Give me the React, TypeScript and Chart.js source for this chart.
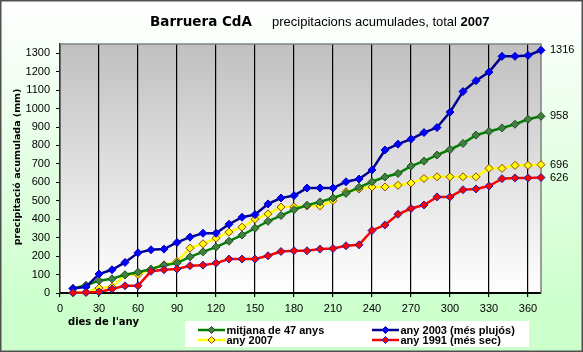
import React, { useEffect, useRef } from 'react';
import { Chart, registerables } from 'chart.js';

Chart.register(...registerables);

// ---- data ----
const days = [10, 20, 30, 40, 50, 60, 70, 80, 90, 100, 110, 120, 130, 140, 150, 160, 170, 180, 190, 200, 210, 220, 230, 240, 250, 260, 270, 280, 290, 300, 310, 320, 330, 340, 350, 360, 370];
const mitjana47 = [25, 42, 67, 77, 99, 113, 130, 151, 162, 196, 223, 249, 281, 314, 351, 389, 420, 452, 476, 494, 515, 540, 573, 603, 629, 648, 688, 715, 748, 778, 811, 856, 876, 895, 915, 942, 958];
const any2003 = [24, 33, 103, 126, 166, 218, 234, 238, 274, 303, 324, 324, 373, 411, 425, 483, 515, 528, 569, 569, 569, 603, 618, 667, 775, 807, 834, 870, 897, 981, 1092, 1151, 1198, 1283, 1283, 1288, 1316];
const any2007 = [2, 5, 27, 32, 97, 100, 130, 153, 171, 243, 267, 297, 330, 357, 400, 429, 466, 467, 472, 472, 501, 549, 564, 575, 575, 584, 596, 621, 630, 630, 630, 630, 676, 676, 692, 692, 696];
const any1991 = [2, 3, 6, 22, 39, 39, 118, 126, 130, 148, 151, 162, 184, 184, 184, 202, 225, 229, 229, 238, 241, 256, 261, 339, 369, 427, 458, 477, 521, 521, 560, 564, 580, 620, 624, 624, 626];

const xTicks = [0, 30, 60, 90, 120, 150, 180, 210, 240, 270, 300, 330, 360];
const yTicks = [0, 100, 200, 300, 400, 500, 600, 700, 800, 900, 1000, 1100, 1200, 1300];

const seriesLabels = ['mitjana de 47 anys', 'any 2003 (més plujós)', 'any 2007', 'any 1991 (més sec)'];
const titleMain = 'Barruera CdA';
const titleSub = 'precipitacions acumulades, total ';
const titleYear = '2007';
const xTitle = "dies de l'any";
const yTitle = 'precipitació acumulada (mm)';

// ---- styles ----
const styles = [
  { line: '#008000', fill: '#408040', edge: '#1f4f1f', order: 2 },
  { line: '#00008c', fill: '#0000ff', edge: '#0000c8', order: 1 },
  { line: '#ffff00', fill: '#ffff00', edge: '#994000', order: 3 },
  { line: '#ff0000', fill: '#ff0000', edge: '#2020b0', order: 0 },
];
const seriesValues = [mitjana47, any2003, any2007, any1991];

export default function App() {
  const ref = useRef<HTMLCanvasElement>(null);

  useEffect(() => {
    document.body.style.margin = '0';
    const canvas = ref.current!;

    const drawDiamond = (ctx: CanvasRenderingContext2D, x: number, y: number, r: number, fill: string, edge: string) => {
      ctx.beginPath();
      ctx.moveTo(x, y - r);
      ctx.lineTo(x + r, y);
      ctx.lineTo(x, y + r);
      ctx.lineTo(x - r, y);
      ctx.closePath();
      ctx.fillStyle = fill;
      ctx.fill();
      ctx.lineWidth = 1;
      ctx.strokeStyle = edge;
      ctx.stroke();
    };

    const deco = {
      id: 'deco',
      beforeDraw(chart: any) {
        const { ctx, width, height, chartArea: a } = chart;
        ctx.save();
        const g = ctx.createLinearGradient(0, 0, 0, 310);
        g.addColorStop(0, '#ffffff');
        g.addColorStop(1, '#ccffcc');
        ctx.fillStyle = g;
        ctx.fillRect(0, 0, width, height);
        const p = ctx.createLinearGradient(0, a.top, 0, a.bottom);
        p.addColorStop(0, '#c0c0c0');
        p.addColorStop(1, '#ffffff');
        ctx.fillStyle = p;
        ctx.fillRect(a.left, a.top, a.right - a.left, a.bottom - a.top);
        ctx.restore();
      },
      beforeDatasetsDraw(chart: any) {
        const { ctx, chartArea: a } = chart;
        ctx.save();
        ctx.strokeStyle = '#808080';
        ctx.lineWidth = 1.5;
        ctx.beginPath();
        ctx.moveTo(a.left, a.top);
        ctx.lineTo(a.right, a.top);
        ctx.lineTo(a.right, a.bottom);
        ctx.stroke();
        ctx.restore();
      },
      afterDraw(chart: any) {
        const { ctx, width, height } = chart;
        ctx.save();
        // title
        ctx.fillStyle = '#000';
        ctx.textBaseline = 'alphabetic';
        ctx.textAlign = 'left';
        ctx.font = 'bold 13.5px "DejaVu Sans"';
        ctx.fillText(titleMain, 150, 26);
        ctx.font = '13px "Liberation Sans"';
        ctx.fillText(titleSub, 272, 26);
        const w = ctx.measureText(titleSub).width;
        ctx.font = 'bold 13px "Liberation Sans"';
        ctx.fillText(titleYear, 272 + w, 26);

        // axis titles
        ctx.font = 'bold 10px "DejaVu Sans"';
        ctx.textBaseline = 'middle';
        ctx.fillText(xTitle, 68, 322);
        ctx.save();
        ctx.translate(18, 167);
        ctx.rotate(-Math.PI / 2);
        ctx.textAlign = 'center';
        ctx.font = 'bold 9.5px "DejaVu Sans"';
        ctx.fillText(yTitle, 0, 0);
        ctx.restore();

        // end labels
        ctx.font = '11px "Liberation Sans"';
        ctx.textAlign = 'left';
        ctx.textBaseline = 'middle';
        chart.data.datasets.forEach((ds: any, i: number) => {
          const meta = chart.getDatasetMeta(i);
          const pt = meta.data[meta.data.length - 1];
          const v = ds.data[ds.data.length - 1].y;
          ctx.fillText(String(v), pt.x + 9, pt.y);
        });

        // legend
        ctx.fillStyle = '#ffffff';
        ctx.fillRect(185, 321, 344, 26);
        const cols = [198, 372];
        const rows = [330, 340];
        const pos = [
          [0, 0],
          [1, 0],
          [0, 1],
          [1, 1],
        ];
        seriesLabels.forEach((lab, i) => {
          const x0 = cols[pos[i][0]];
          const y0 = rows[pos[i][1]];
          const s = styles[i];
          ctx.strokeStyle = s.line;
          ctx.lineWidth = 2.5;
          ctx.beginPath();
          ctx.moveTo(x0, y0);
          ctx.lineTo(x0 + 27, y0);
          ctx.stroke();
          drawDiamond(ctx, x0 + 13.5, y0, 3.5, s.fill, s.edge);
          ctx.fillStyle = '#000';
          ctx.font = 'bold 11px "Liberation Sans"';
          ctx.textBaseline = 'middle';
          ctx.fillText(lab, x0 + 28.5, y0 + 0.5);
        });

        // outer frame
        ctx.strokeStyle = '#505050';
        ctx.lineWidth = 1.5;
        ctx.strokeRect(0.75, 0.75, width - 1.5, height - 1.5);
        ctx.restore();
      },
    };

    const chart = new Chart(canvas, {
      type: 'line',
      data: {
        datasets: seriesLabels.map((lab, i) => ({
          label: lab,
          data: days.map((d, j) => ({ x: d, y: seriesValues[i][j] })),
          borderColor: styles[i].line,
          backgroundColor: styles[i].fill,
          pointBackgroundColor: styles[i].fill,
          pointBorderColor: styles[i].edge,
          pointBorderWidth: 1,
          pointStyle: 'rectRot',
          pointRadius: 4,
          borderWidth: 2.5,
          tension: 0,
          clip: false,
          order: styles[i].order,
        })),
      },
      options: {
        responsive: false,
        animation: false,
        devicePixelRatio: 1,
        layout: { padding: { left: 0, top: 44, right: 42, bottom: 39 } },
        plugins: {
          legend: { display: false },
          tooltip: { enabled: false },
          title: { display: false },
        },
        scales: {
          x: {
            type: 'linear',
            min: 0,
            max: 370,
            afterBuildTicks: (s: any) => {
              s.ticks = xTicks.map((v) => ({ value: v }));
            },
            afterFit: (s: any) => {
              s.height = 20;
            },
            ticks: {
              color: '#000',
              font: { family: '"Liberation Sans"', size: 11 },
              padding: 5,
              maxRotation: 0,
              autoSkip: false,
              callback: (v: any) => String(v),
            },
            grid: {
              color: '#000',
              lineWidth: 1.2,
              drawOnChartArea: true,
              drawTicks: true,
              tickLength: 4,
              tickColor: '#000',
            },
            border: { display: true, color: '#000', width: 2 },
          },
          y: {
            type: 'linear',
            min: 0,
            max: 1350,
            afterBuildTicks: (s: any) => {
              s.ticks = yTicks.map((v) => ({ value: v }));
            },
            afterFit: (s: any) => {
              s.width = 60;
            },
            ticks: {
              color: '#000',
              font: { family: '"Liberation Sans"', size: 11 },
              padding: 6,
              autoSkip: false,
              callback: (v: any) => String(v),
            },
            grid: {
              color: '#000',
              drawOnChartArea: false,
              drawTicks: true,
              tickLength: 4,
              tickColor: '#000',
            },
            border: { display: true, color: '#333', width: 1.5 },
          },
        },
      },
      plugins: [deco],
    } as any);

    return () => chart.destroy();
  }, []);

  return <canvas ref={ref} width={583} height={352} style={{ display: 'block' }} />;
}
